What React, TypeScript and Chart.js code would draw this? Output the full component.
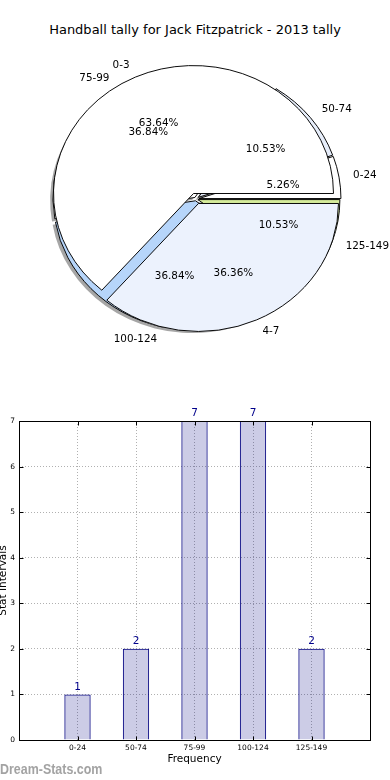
import React, { useEffect, useRef } from 'react';
import { Chart, registerables } from 'chart.js';

Chart.register(...registerables);

const chartTitle = 'Handball tally for Jack Fitzpatrick - 2013 tally';

// stat intervals (outer pie + bar chart)
const intervalLabels = ['0-24', '50-74', '75-99', '100-124', '125-149'];
const intervalCounts = [1, 2, 7, 7, 2];
const intervalColors = ['#ffffff', '#e6edfa', '#ffffff', '#b6d5fa', '#d5ec9b'];

// ranges (overlaid pie)
const rangeLabels = ['0-3', '4-7'];
const rangeCounts = [7, 4];
const rangeColors = ['#ffffff', '#ecf2fd'];

const yTickMax = 7;

// style constants
const FONT = 'DejaVu Sans';
const SQUASH = 0.914;
const pie1Explode = [3, 3, 2, 2, 2];
const pie2Explode = [6, 6];

function makePiePlugin(explode: number[], shadow: boolean) {
  return {
    id: 'pieDraw',
    beforeDatasetsDraw(chart: any) {
      const ctx = chart.ctx;
      const arcs = chart.getDatasetMeta(0).data;
      if (!arcs.length) return false;
      const cy0 = arcs[0].y;
      ctx.save();
      ctx.translate(0, cy0);
      ctx.scale(1, SQUASH);
      ctx.translate(0, -cy0);
      if (shadow) {
        ctx.save();
        ctx.translate(-2.8, 2.8);
        ctx.fillStyle = 'rgba(77,77,77,0.5)';
        arcs.forEach((a: any, i: number) => {
          const mid = (a.startAngle + a.endAngle) / 2;
          const ox = a.x + Math.cos(mid) * explode[i];
          const oy = a.y + Math.sin(mid) * explode[i];
          ctx.beginPath();
          ctx.moveTo(ox, oy);
          ctx.arc(ox, oy, a.outerRadius, a.startAngle, a.endAngle);
          ctx.closePath();
          ctx.fill();
        });
        ctx.restore();
      }
      arcs.forEach((a: any, i: number) => {
        const mid = (a.startAngle + a.endAngle) / 2;
        ctx.save();
        ctx.translate(Math.cos(mid) * explode[i], Math.sin(mid) * explode[i]);
        a.draw(ctx, chart.chartArea);
        ctx.restore();
      });
      ctx.restore();
      return false;
    },
  };
}

function drawPieLabels(ctx: CanvasRenderingContext2D, chart: any, explode: number[]) {
  const arcs = chart.getDatasetMeta(0).data;
  if (!arcs.length) return;
  const vals = chart.data.datasets[0].data as number[];
  const labels = chart.data.labels as string[];
  const total = vals.reduce((s, v) => s + v, 0);
  const cy0 = arcs[0].y;
  const sy = (y: number) => cy0 + (y - cy0) * SQUASH;
  ctx.save();
  ctx.font = `10.4px "${FONT}"`;
  ctx.fillStyle = '#000';
  ctx.textBaseline = 'middle';
  arcs.forEach((a: any, i: number) => {
    const mid = (a.startAngle + a.endAngle) / 2;
    const c = Math.cos(mid);
    const s = Math.sin(mid);
    const cx = a.x + c * explode[i];
    const cy = a.y + s * explode[i];
    const R = a.outerRadius;
    ctx.textAlign = c > 0 ? 'left' : 'right';
    ctx.fillText(labels[i], cx + 1.1 * R * c, sy(cy + 1.1 * R * s));
    ctx.textAlign = 'center';
    ctx.fillText(((vals[i] / total) * 100).toFixed(2) + '%', cx + 0.6 * R * c, sy(cy + 0.6 * R * s));
  });
  ctx.restore();
}

const barDecor = {
  id: 'barDecor',
  afterDraw(chart: any) {
    const { ctx, chartArea } = chart;
    const { left, top, right, bottom } = chartArea;
    const L = Math.round(left) + 0.5;
    const T = Math.round(top) + 0.5;
    const Rr = Math.round(right) + 0.5;
    const B = Math.round(bottom) + 0.5;
    ctx.save();
    ctx.strokeStyle = '#000';
    ctx.lineWidth = 1;
    const ys = chart.scales.y;
    const xs = chart.scales.x;
    ctx.beginPath();
    ys.ticks.forEach((t: any) => {
      const py = Math.round(ys.getPixelForValue(t.value)) + 0.5;
      ctx.moveTo(L, py); ctx.lineTo(L + 4, py);
      ctx.moveTo(Rr, py); ctx.lineTo(Rr - 4, py);
    });
    xs.ticks.forEach((t: any, i: number) => {
      const px = Math.round(xs.getPixelForTick(i)) + 0.5;
      ctx.moveTo(px, B); ctx.lineTo(px, B - 4);
      ctx.moveTo(px, T); ctx.lineTo(px, T + 4);
    });
    ctx.stroke();
    ctx.strokeRect(L, T, Rr - L, B - T);
    const meta = chart.getDatasetMeta(0);
    const vals = chart.data.datasets[0].data;
    ctx.fillStyle = '#00008b';
    ctx.font = `10.5px "${FONT}"`;
    ctx.textAlign = 'center';
    ctx.textBaseline = 'bottom';
    meta.data.forEach((b: any, i: number) => {
      const v = vals[i];
      if (v == null) return;
      ctx.fillText(String(v), b.x, b.y - 2);
    });
    ctx.restore();
  },
};

export default function App() {
  const pie1Ref = useRef<HTMLCanvasElement>(null);
  const pie2Ref = useRef<HTMLCanvasElement>(null);
  const barRef = useRef<HTMLCanvasElement>(null);

  useEffect(() => {
    const rev = <T,>(a: T[]) => [...a].reverse();
    const p1Explode = rev(pie1Explode);
    const p2Explode = rev(pie2Explode);

    const pie1 = new Chart(pie1Ref.current as HTMLCanvasElement, {
      type: 'pie',
      data: {
        labels: rev(intervalLabels),
        datasets: [
          {
            data: rev(intervalCounts),
            backgroundColor: rev(intervalColors),
            borderColor: '#000',
            borderWidth: 1,
          },
        ],
      },
      options: {
        responsive: false,
        animation: false,
        events: [],
        rotation: 90,
        radius: 142,
        layout: { padding: { left: 2, right: 0, top: 18, bottom: 0 } },
        plugins: { legend: { display: false }, tooltip: { enabled: false }, title: { display: false } },
      } as any,
      plugins: [makePiePlugin(p1Explode, true)],
    });

    const labelOverlay = {
      id: 'labelOverlay',
      afterDraw(chart: any) {
        drawPieLabels(chart.ctx, pie1, p1Explode);
        drawPieLabels(chart.ctx, chart, p2Explode);
      },
    };

    const pie2 = new Chart(pie2Ref.current as HTMLCanvasElement, {
      type: 'pie',
      data: {
        labels: rev(rangeLabels),
        datasets: [
          {
            data: rev(rangeCounts),
            backgroundColor: rev(rangeColors),
            borderColor: '#000',
            borderWidth: 1,
          },
        ],
      },
      options: {
        responsive: false,
        animation: false,
        events: [],
        rotation: 90,
        radius: 140,
        layout: { padding: { left: 2, right: 0, top: 17, bottom: 0 } },
        plugins: { legend: { display: false }, tooltip: { enabled: false }, title: { display: false } },
      } as any,
      plugins: [makePiePlugin(p2Explode, false), labelOverlay],
    });

    const bar = new Chart(barRef.current as HTMLCanvasElement, {
      type: 'bar',
      data: {
        labels: ['', ...intervalLabels, ''],
        datasets: [
          {
            data: [null, ...intervalCounts, null],
            backgroundColor: 'rgba(0,0,128,0.2)',
            borderColor: '#000080',
            borderWidth: 1,
            barPercentage: 0.45,
            categoryPercentage: 1,
          },
        ],
      },
      options: {
        responsive: false,
        animation: false,
        events: [],
        layout: { padding: { left: 0, right: 20, top: 41, bottom: 0 } },
        plugins: { legend: { display: false }, tooltip: { enabled: false } },
        scales: {
          x: {
            offset: false,
            grid: { offset: false, color: '#b0b0b0', lineWidth: 1, drawTicks: false },
            border: { display: false, dash: [1, 2] },
            ticks: {
              autoSkip: false,
              maxRotation: 0,
              padding: 4,
              color: '#000',
              font: { family: FONT, size: 7.5 },
            },
            title: {
              display: true,
              text: 'Frequency',
              color: '#000',
              font: { family: FONT, size: 10.5 },
              padding: { top: 0, bottom: 14 },
            },
            afterFit: (s: any) => {
              s.height = 40;
            },
          },
          y: {
            min: 0,
            max: yTickMax,
            grid: { color: '#b0b0b0', lineWidth: 1, drawTicks: false },
            border: { display: false, dash: [1, 2] },
            ticks: {
              stepSize: 1,
              padding: 4,
              color: '#000',
              font: { family: FONT, size: 7.5 },
            },
            title: {
              display: true,
              text: 'Stat Intervals',
              color: '#000',
              font: { family: FONT, size: 10.5 },
              padding: { top: 0, bottom: 0 },
            },
            afterFit: (s: any) => {
              s.width = 22;
            },
          },
        },
      } as any,
      plugins: [barDecor],
    });

    return () => {
      pie2.destroy();
      pie1.destroy();
      bar.destroy();
    };
  }, []);

  return (
    <div
      style={{
        position: 'absolute',
        left: 0,
        top: 0,
        width: 390,
        height: 780,
        overflow: 'hidden',
        background: '#fff',
        fontFamily: `"${FONT}", sans-serif`,
      }}
    >
      <div
        style={{
          position: 'absolute',
          top: 22,
          left: 0,
          width: 390,
          textAlign: 'center',
          fontSize: 13,
          lineHeight: '16px',
          color: '#000',
          whiteSpace: 'nowrap',
        }}
      >
        {chartTitle}
      </div>
      <canvas ref={pie1Ref} width={390} height={380} style={{ position: 'absolute', left: 0, top: 0 }} />
      <canvas ref={pie2Ref} width={390} height={380} style={{ position: 'absolute', left: 0, top: 0 }} />
      <canvas ref={barRef} width={393} height={400} style={{ position: 'absolute', left: -3, top: 380 }} />
      <div
        style={{
          position: 'absolute',
          left: 0,
          top: 761,
          fontFamily: '"Liberation Sans", sans-serif',
          fontWeight: 'bold',
          fontSize: 15,
          lineHeight: '15px',
          color: '#a3a3a3',
          whiteSpace: 'nowrap',
          transform: 'scaleX(0.83)',
          transformOrigin: '0 0',
        }}
      >
        Dream-Stats.com
      </div>
    </div>
  );
}
